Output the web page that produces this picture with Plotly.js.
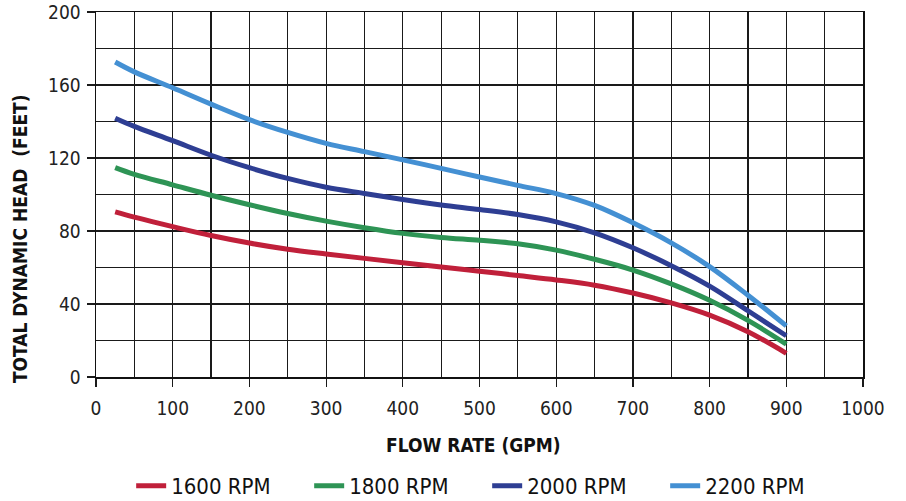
<!DOCTYPE html>
<html>
<head>
<meta charset="utf-8">
<script src="https://cdn.plot.ly/plotly-3.0.1.min.js"></script>
<style>html,body{margin:0;padding:0;background:#fff}#chart{width:906px;height:501px}</style>
</head>
<body>
<div id="chart"></div>
<script>
const flowGpm = [25, 50, 100, 150, 200, 250, 300, 350, 400, 450, 500, 550, 600, 650, 700, 750, 800, 850, 900];
const rpm1600 = [90.5, 87.6, 82.4, 77.5, 73.4, 70, 67.4, 65, 62.6, 60.3, 58, 55.6, 53.2, 50.3, 46, 40.6, 33.9, 24.8, 13];
const rpm1800 = [114.7, 111, 105.3, 99.6, 94.4, 89.6, 85.4, 81.8, 78.7, 76.5, 74.9, 73, 69.5, 64.5, 58.6, 51, 42, 31, 18];
const rpm2000 = [141.8, 137.3, 129.5, 121.5, 114.7, 108.8, 104, 100.6, 97.3, 94.3, 91.8, 89, 85, 79, 70.8, 61, 49.8, 36.3, 22.6];
const rpm2200 = [172.6, 167.2, 158.5, 149.5, 141, 134, 128, 123.5, 119, 114.3, 109.6, 105, 100.5, 94, 84.5, 73.5, 60.5, 44.8, 28];
const seriesNames = ['1600 RPM', '1800 RPM', '2000 RPM', '2200 RPM'];
const seriesColors = ['#C0203A', '#2E9455', '#2E3E93', '#4490D3'];
const xTicks = [0, 100, 200, 300, 400, 500, 600, 700, 800, 900, 1000];
const yTicks = [0, 40, 80, 120, 160, 200];
const xTitle = 'FLOW RATE (GPM)';
const yTitle = 'TOTAL DYNAMIC HEAD  (FEET)';

const allY = [rpm1600, rpm1800, rpm2000, rpm2200];
const condensed = '"DejaVu Sans Condensed", "Liberation Sans Narrow", sans-serif';
const traces = allY.map((ys, i) => ({
  x: flowGpm, y: ys, name: seriesNames[i], type: 'scatter', mode: 'lines',
  line: {color: seriesColors[i], width: 5, shape: 'spline', smoothing: 1}
}));

const gridC = '#1a1a1a';
const layout = {
  width: 906, height: 501,
  margin: {l: 96, r: 43, t: 12, b: 124, autoexpand: false},
  paper_bgcolor: '#fff', plot_bgcolor: '#fff',
  showlegend: true,
  legend: {orientation: 'h', xref: 'paper', x: 0.51, xanchor: 'center',
    yref: 'container', y: 0.03, yanchor: 'middle',
    entrywidth: 133, entrywidthmode: 'pixels',
    font: {family: condensed, size: 22, color: '#111'}},
  xaxis: {
    range: [0, 1000], tickvals: xTicks, ticktext: xTicks.map(String),
    showgrid: true, gridcolor: gridC, gridwidth: 1.2,
    minor: {dtick: 50, tick0: 0, showgrid: true, gridcolor: gridC, gridwidth: 1.2, ticklen: 0},
    ticks: 'outside', ticklen: 8, tickcolor: gridC, tickwidth: 1.2,
    showline: true, mirror: true, linecolor: '#111', linewidth: 1.5,
    zeroline: false, automargin: false, ticklabelstandoff: 6,
    tickfont: {family: condensed, size: 19, color: '#222'}
  },
  yaxis: {
    range: [0, 200], tickvals: yTicks, ticktext: yTicks.map(String),
    showgrid: true, gridcolor: gridC, gridwidth: 1.2,
    minor: {dtick: 20, tick0: 0, showgrid: true, gridcolor: gridC, gridwidth: 1.2, ticklen: 0},
    ticks: 'outside', ticklen: 8, tickcolor: gridC, tickwidth: 1.2,
    showline: true, mirror: true, linecolor: '#111', linewidth: 1.5,
    zeroline: false, automargin: false, ticklabelstandoff: 2,
    tickfont: {family: condensed, size: 19, color: '#222'}
  },
  annotations: [
    {text: '<b>' + xTitle + '</b>', xref: 'paper', yref: 'paper', x: 0.492, y: -0.186,
     xanchor: 'center', yanchor: 'middle', showarrow: false,
     font: {family: condensed, size: 19, color: '#111'}},
    {text: '<b>' + yTitle + '</b>', xref: 'paper', yref: 'paper', x: -0.099, y: 0.378,
     xanchor: 'center', yanchor: 'middle', showarrow: false, textangle: -90,
     font: {family: condensed, size: 19, color: '#111'}}
  ]
};
Plotly.newPlot('chart', traces, layout, {displayModeBar: false, staticPlot: true});
</script>
</body>
</html>
